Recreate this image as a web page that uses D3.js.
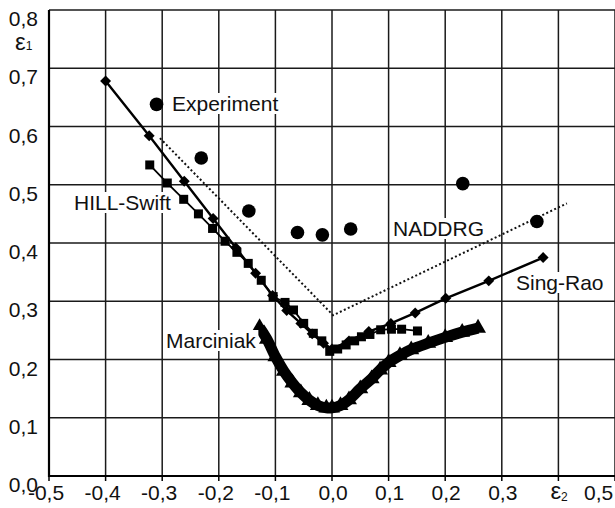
<!DOCTYPE html>
<html>
<head>
<meta charset="utf-8">
<script src="https://cdn.jsdelivr.net/npm/d3@7"></script>
<style>
  body { margin: 0; background: white; }
  text { font-family: "Liberation Sans", Arial, sans-serif; fill: #111; }
</style>
</head>
<body>
<script>
// tick values and labels
xTicks = [-0.5, -0.4, -0.3, -0.2, -0.1, 0.0, 0.1, 0.2, 0.3, 0.4, 0.5];
yTicks = [0.0, 0.1, 0.2, 0.3, 0.4, 0.5, 0.6, 0.7, 0.8];

// Experiment (circles)
expX = [-0.310, -0.231, -0.147, -0.061, -0.017, 0.033, 0.231, 0.362];
expY = [0.638, 0.546, 0.455, 0.418, 0.414, 0.424, 0.502, 0.437];

// Sing-Rao (diamonds with line)
srX = [-0.400, -0.323, -0.261, -0.210, -0.170, -0.135, -0.105, -0.080, -0.055, -0.035, -0.015, 0.000, 0.030, 0.065, 0.104, 0.147, 0.201, 0.277, 0.373];
srY = [0.678, 0.584, 0.506, 0.442, 0.392, 0.348, 0.310, 0.284, 0.262, 0.244, 0.228, 0.218, 0.232, 0.248, 0.262, 0.280, 0.305, 0.335, 0.375];

// HILL-Swift (squares with line)
hsX = [-0.322, -0.291, -0.262, -0.236, -0.211, -0.189, -0.168, -0.148, -0.125, -0.104, -0.083, -0.068, -0.050, -0.033, -0.018, -0.004, 0.010, 0.025, 0.040, 0.052, 0.067, 0.086, 0.105, 0.123, 0.151];
hsY = [0.534, 0.503, 0.475, 0.450, 0.425, 0.403, 0.384, 0.365, 0.336, 0.308, 0.298, 0.285, 0.262, 0.245, 0.232, 0.214, 0.218, 0.225, 0.232, 0.239, 0.243, 0.251, 0.252, 0.252, 0.249];

// NADDRG (dotted)
ndX = [-0.304, 0.002, 0.415];
ndY = [0.580, 0.276, 0.468];

// Marciniak (dense band)
mkX = [-0.128, -0.115, -0.100, -0.085, -0.070, -0.055, -0.040, -0.025, -0.010, 0.000, 0.015, 0.030, 0.050, 0.070, 0.085, 0.100, 0.120, 0.140, 0.170, 0.200, 0.230, 0.258];
mkY = [0.255, 0.235, 0.205, 0.180, 0.160, 0.143, 0.130, 0.121, 0.117, 0.117, 0.121, 0.131, 0.150, 0.167, 0.182, 0.195, 0.207, 0.217, 0.228, 0.238, 0.247, 0.254];

function zip(xs, ys) {
    return xs.map((x, i) => ({x: x, y: ys[i]}));
}

function fmt(v) {
    return d3.format(".1f")(v).replace(".", ",").replace("−", "-");
}

var width = 615, height = 508;
var x = d3.scaleLinear().domain([-0.5, 0.5]).range([49, 615]);
var y = d3.scaleLinear().domain([0, 0.8]).range([476, 10]);

var svg = d3.select("body").append("svg")
    .attr("width", width)
    .attr("height", height);

// grid
svg.append("g").selectAll("line").data(xTicks).enter().append("line")
    .attr("x1", d => x(d)).attr("x2", d => x(d))
    .attr("y1", y(0)).attr("y2", y(0.8))
    .style("stroke", "#1a1a1a").style("stroke-width", 1.5);
svg.append("g").selectAll("line").data(yTicks).enter().append("line")
    .attr("x1", x(-0.5)).attr("x2", x(0.5))
    .attr("y1", d => y(d)).attr("y2", d => y(d))
    .style("stroke", "#1a1a1a").style("stroke-width", 1.5);

// axes
svg.append("line").attr("x1", x(-0.5)).attr("x2", x(-0.5)).attr("y1", y(0) + 1).attr("y2", y(0.8))
    .style("stroke", "#000").style("stroke-width", 2.2);
svg.append("line").attr("x1", x(-0.5)).attr("x2", x(0.5)).attr("y1", y(0)).attr("y2", y(0))
    .style("stroke", "#000").style("stroke-width", 2.2);
svg.append("g").selectAll("line").data(xTicks).enter().append("line")
    .attr("x1", d => x(d)).attr("x2", d => x(d))
    .attr("y1", y(0)).attr("y2", y(0) + 5)
    .style("stroke", "#000").style("stroke-width", 1.5);

// tick labels
svg.append("g").selectAll("text").data(yTicks).enter().append("text")
    .attr("x", 38).attr("y", d => y(d) + 16)
    .attr("text-anchor", "end")
    .style("font-size", "21px")
    .text(d => fmt(d));

svg.append("g").selectAll("text").data(xTicks.filter(d => d < 0.35)).enter().append("text")
    .attr("x", d => x(d) + (d < 0 ? -3 : 1)).attr("y", y(0) + 24)
    .attr("text-anchor", "middle")
    .style("font-size", "21px")
    .text(d => fmt(d));
svg.append("text")
    .attr("x", x(0.5) - 31).attr("y", y(0) + 24)
    .style("font-size", "21px")
    .text(fmt(0.5));

// axis names
var e2 = svg.append("text").attr("x", x(0.4) - 8).attr("y", y(0) + 23).style("font-size", "24px");
e2.append("tspan").text("ε");
e2.append("tspan").attr("dy", 2).style("font-size", "12px").text("2");
var e1 = svg.append("text").attr("x", 15).attr("y", 50).style("font-size", "24px");
e1.append("tspan").text("ε");
e1.append("tspan").attr("dy", 0).style("font-size", "12px").text("1");

var line = d3.line().x(d => x(d.x)).y(d => y(d.y));

// NADDRG
svg.append("path").datum(zip(ndX, ndY))
    .attr("d", line)
    .style("fill", "none").style("stroke", "#111")
    .style("stroke-width", 2).style("stroke-dasharray", "2,2.4");

// Marciniak
var mk = zip(mkX, mkY);
svg.append("path").datum(mk)
    .attr("d", d3.line().curve(d3.curveCatmullRom).x(d => x(d.x)).y(d => y(d.y)))
    .style("fill", "none").style("stroke", "#000").style("stroke-width", 11);
svg.append("g").selectAll("path").data(mk).enter().append("path")
    .attr("transform", d => "translate(" + x(d.x) + "," + y(d.y) + ")")
    .attr("d", d3.symbol().type(d3.symbolTriangle).size(110))
    .style("fill", "#000");

// HILL-Swift
var hs = zip(hsX, hsY);
svg.append("path").datum(hs)
    .attr("d", line)
    .style("fill", "none").style("stroke", "#000").style("stroke-width", 1.8);
svg.append("g").selectAll("rect").data(hs).enter().append("rect")
    .attr("x", d => x(d.x) - 4.5).attr("y", d => y(d.y) - 4.5)
    .attr("width", 9).attr("height", 9)
    .style("fill", "#000");

// Sing-Rao
var sr = zip(srX, srY);
svg.append("path").datum(sr)
    .attr("d", line)
    .style("fill", "none").style("stroke", "#000").style("stroke-width", 2.4);
svg.append("g").selectAll("path").data(sr).enter().append("path")
    .attr("transform", d => "translate(" + x(d.x) + "," + y(d.y) + ") rotate(45)")
    .attr("d", d3.symbol().type(d3.symbolSquare).size(60))
    .style("fill", "#000");

// Experiment
svg.append("g").selectAll("circle").data(zip(expX, expY)).enter().append("circle")
    .attr("cx", d => x(d.x)).attr("cy", d => y(d.y))
    .attr("r", 6.8)
    .style("fill", "#000");

// series labels with white boxes
var labels = [
    {text: "Experiment", x: 172, y: 111},
    {text: "HILL-Swift", x: 74, y: 210},
    {text: "NADDRG", x: 393, y: 236},
    {text: "Sing-Rao", x: 516, y: 290},
    {text: "Marciniak", x: 166, y: 348}
];
labels.forEach(function(l) {
    var g = svg.append("g");
    var t = g.append("text").attr("x", l.x).attr("y", l.y)
        .style("font-size", "21px").text(l.text);
    var b = t.node().getBBox();
    g.insert("rect", "text")
        .attr("x", b.x - 2).attr("y", b.y + 1)
        .attr("width", b.width + 4).attr("height", b.height - 2)
        .style("fill", "white");
});
</script>
</body>
</html>
